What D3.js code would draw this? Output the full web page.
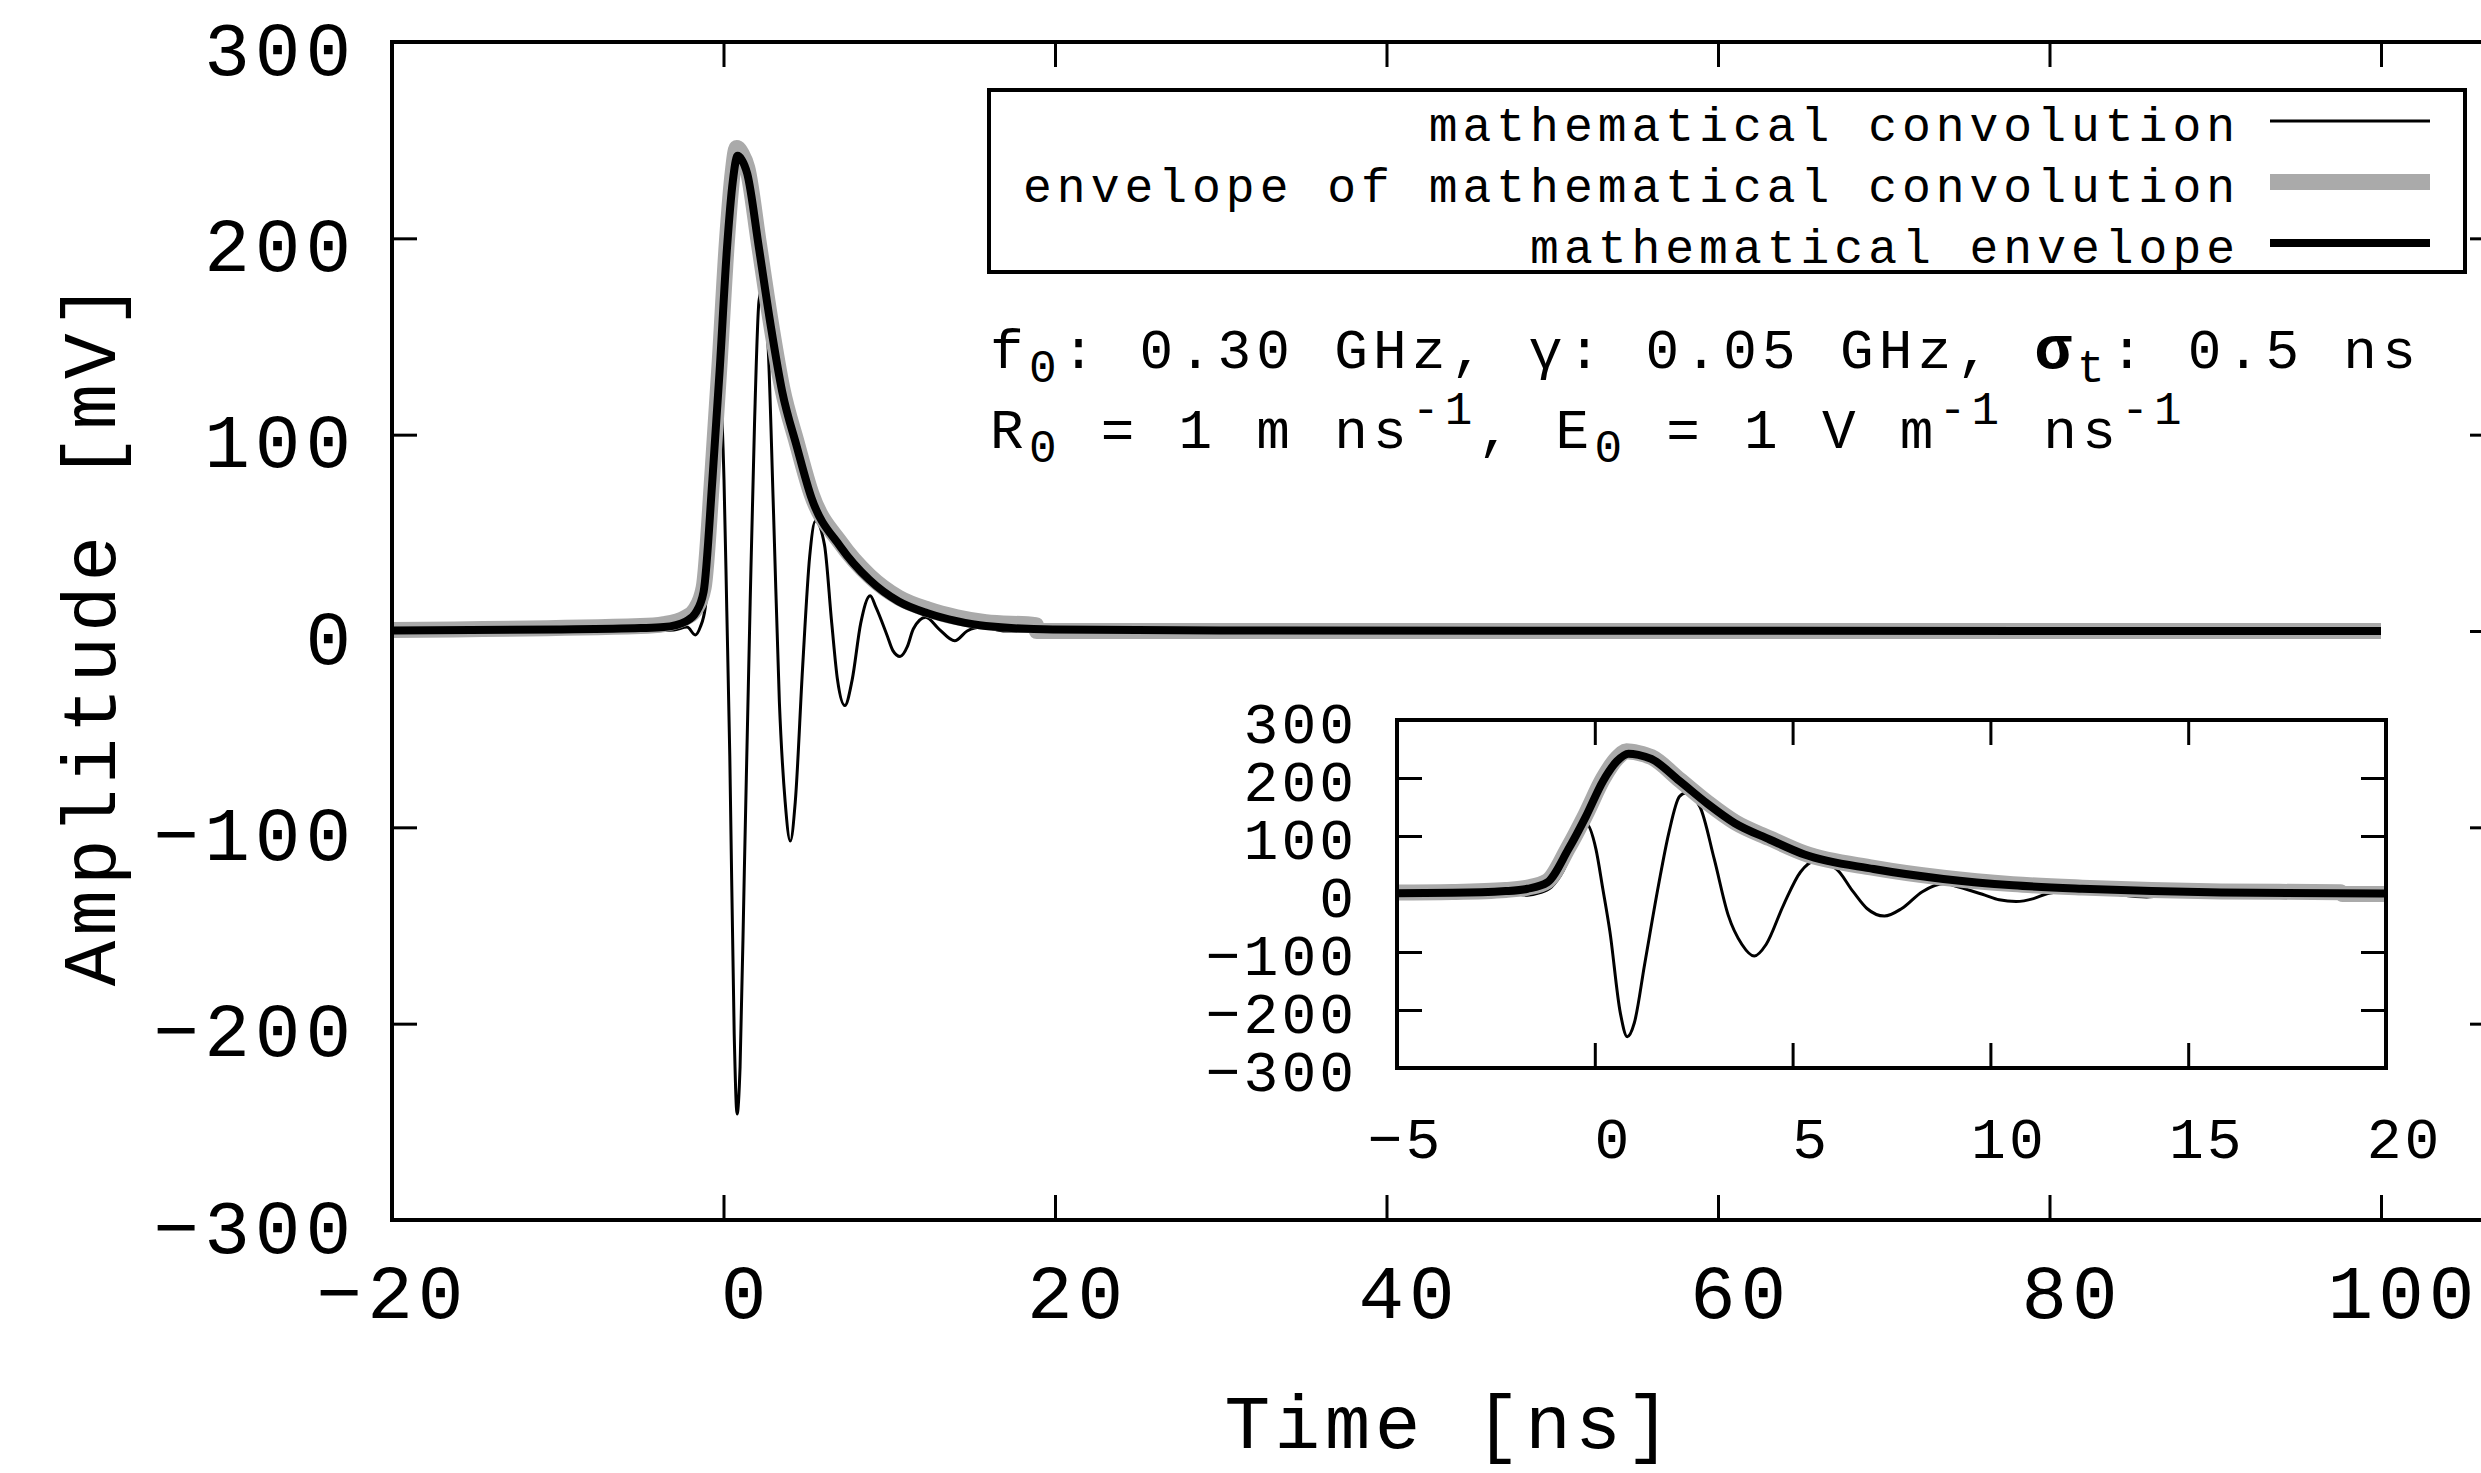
<!DOCTYPE html>
<html>
<head>
<meta charset="utf-8">
<script src="https://cdn.jsdelivr.net/npm/d3@7"></script>
<style>
  body { margin: 0; background: #fff; }
  text { font-family: "Liberation Mono", "DejaVu Sans Mono", monospace; fill: #000; }
</style>
</head>
<body>
<div id="chart-area"></div>
<script>
// values (time in ns, amplitude in mV)
var convTime = [-20, -5, -3, -2.2, -1.7, -1.4, -1.1, -0.8, -0.5, -0.23, 0.03, 0.2, 0.38, 0.645, 0.82, 1.0, 1.26, 1.61, 1.87, 2.14, 2.3, 2.66, 3.02, 3.37, 3.72, 4.03, 4.33, 4.77, 5.2, 5.55, 6.09, 6.53, 6.88, 7.32, 7.76, 8.28, 8.85, 9.2, 9.86, 10.22, 10.65, 11.09, 11.45, 12.2, 13.0, 13.95, 14.7, 15.6, 17, 20, 100];
var convAmp  = [0, 0, 0.5, 2, -2, 2, 12, 40, 88, 122, 77, 10, -64, -205, -246, -222, -121, 15, 105, 168, 174, 150, 60, -36, -87, -107, -87, -19, 38, 56, 44, 4, -25, -38, -25, 4, 18, 12, -2, -10, -13, -8, 1, 7, 1, -5, 0, 2, 0, 0, 0];

var envConvTime = [-20, -5, -3.6, -2.25, -1.7, -1.2, -0.67, -0.23, 0.21, 0.56, 0.8, 1.1, 1.43, 2.14, 2.84, 3.54, 4.42, 5.3, 7.05, 8.81, 10.57, 12.32, 14.08, 15.83, 18.85, 18.9, 100];
var envConvAmp  = [0.5, 2.5, 3.5, 7, 11, 22, 80, 137, 199, 234, 246, 243, 236, 197, 158, 124, 96, 70, 45, 28, 17, 11, 7, 4.5, 3, 0, 0];

var envTime = [-20, -10, -5, -3.6, -2.25, -1.7, -1.2, -0.67, -0.23, 0.21, 0.56, 0.85, 1.1, 1.43, 2.14, 2.84, 3.54, 4.42, 5.3, 7.05, 8.81, 10.57, 12.32, 14.08, 15.83, 19.87, 30, 100];
var envAmp  = [0.3, 0.8, 1.5, 2, 5, 9, 20, 77, 133, 195, 229, 242, 240, 233, 195, 156, 122, 94, 68, 43, 26, 15, 9, 5, 2.5, 0.8, 0.2, 0];

var xTicks = [-20, 0, 20, 40, 60, 80, 100];
var yTicks = [-300, -200, -100, 0, 100, 200, 300];
var insetXTicks = [-5, 0, 5, 10, 15, 20];
var insetYTicks = [-300, -200, -100, 0, 100, 200, 300];

var seriesNames = ["mathematical convolution", "envelope of mathematical convolution", "mathematical envelope"];

var W = 2481, H = 1473;

var svg = d3.select("#chart-area").append("svg")
    .attr("width", W).attr("height", H);

function pts(t, a) { return t.map(function(d, i){ return [d, a[i]]; }); }
var series = [
    {data: pts(convTime, convAmp), color: "#000", width: 3},
    {data: pts(envConvTime, envConvAmp), color: "#aaaaaa", width: 16},
    {data: pts(envTime, envAmp), color: "#000", width: 8}
];

var fmt = d3.format("d");

// ---------- main plot ----------
var x = d3.scaleLinear().domain([-20, 100]).range([392, 2381]);
var y = d3.scaleLinear().domain([-300, 300]).range([1220, 42]);
var frameRight = 2495;

svg.append("clipPath").attr("id", "mainclip").append("rect")
    .attr("x", 392).attr("y", 42).attr("width", frameRight - 392).attr("height", 1178);

var line = d3.line()
    .x(function(d){ return x(d[0]); })
    .y(function(d){ return y(d[1]); })
    .curve(d3.curveMonotoneX);

var gMain = svg.append("g").attr("clip-path", "url(#mainclip)");
series.forEach(function(s){
    gMain.append("path")
        .attr("d", line(s.data))
        .attr("fill", "none")
        .attr("stroke", s.color)
        .attr("stroke-width", s.width)
        .attr("stroke-linejoin", "round");
});

function styleAxis(g, fs, ls) {
    g.attr("font-family", null).attr("font-size", fs);
    g.select(".domain").remove();
    g.selectAll(".tick line").attr("stroke", "#000").attr("stroke-width", 3);
    g.selectAll(".tick text").attr("fill", "#000").attr("letter-spacing", ls).attr("dy", null);
}

// bottom
var gx = svg.append("g").attr("transform", "translate(0,1220)")
    .call(d3.axisBottom(x).tickValues(xTicks).tickSize(-25).tickFormat(fmt));
styleAxis(gx, 76, 5);
gx.selectAll(".tick text").attr("y", 98)
    .attr("x", function(d){ return d < 0 ? 0 : 22; });
// top
var gxt = svg.append("g").attr("transform", "translate(0,42)")
    .call(d3.axisTop(x).tickValues(xTicks).tickSize(-25).tickFormat(""));
styleAxis(gxt, 76, 5);
// left
var gy = svg.append("g").attr("transform", "translate(392,0)")
    .call(d3.axisLeft(y).tickValues(yTicks).tickSize(-25).tickFormat(fmt));
styleAxis(gy, 76, 5);
gy.selectAll(".tick text").attr("x", -36).attr("y", 32);
// right (cut by the picture edge)
var gyr = svg.append("g").attr("transform", "translate(" + frameRight + ",0)")
    .call(d3.axisRight(y).tickValues(yTicks).tickSize(-25).tickFormat(""));
styleAxis(gyr, 76, 5);

svg.append("rect")
    .attr("x", 392).attr("y", 42).attr("width", frameRight - 392).attr("height", 1178)
    .attr("fill", "none").attr("stroke", "#000").attr("stroke-width", 4);

// axis titles
svg.append("text")
    .attr("x", 1450).attr("y", 1448)
    .attr("text-anchor", "middle")
    .attr("font-size", 76).attr("letter-spacing", 4.5)
    .text("Time [ns]");

svg.append("text")
    .attr("transform", "translate(115,632) rotate(-90)")
    .attr("text-anchor", "middle")
    .attr("font-size", 76).attr("letter-spacing", 5)
    .text("Amplitude [mV]");

// ---------- legend ----------
var legend = svg.append("g");
legend.append("rect")
    .attr("x", 989).attr("y", 90).attr("width", 1476).attr("height", 182)
    .attr("fill", "#fff").attr("stroke", "#000").attr("stroke-width", 4);

seriesNames.forEach(function(name, i){
    var row = legend.append("g").attr("transform", "translate(0," + (121 + i * 61) + ")");
    row.append("text")
        .attr("x", 2240).attr("y", 20)
        .attr("text-anchor", "end")
        .attr("font-size", 48).attr("letter-spacing", 5)
        .text(name);
    row.append("line")
        .attr("x1", 2270).attr("x2", 2430)
        .attr("y1", 0).attr("y2", 0)
        .attr("stroke", series[i].color)
        .attr("stroke-width", series[i].width);
});

// ---------- parameter text ----------
var sub = 14, sup = -24;
var ann1 = svg.append("text").attr("x", 990).attr("y", 368)
    .attr("font-size", 56).attr("letter-spacing", 5.3);
ann1.append("tspan").text("f");
ann1.append("tspan").attr("dy", sub).attr("font-size", 46).text("0");
ann1.append("tspan").attr("dy", -sub).text(": 0.30 GHz, \u03b3: 0.05 GHz, ");
ann1.append("tspan").attr("font-weight", "bold").attr("font-size", 62).text("\u03c3");
ann1.append("tspan").attr("dy", sub).attr("font-size", 46).text("t");
ann1.append("tspan").attr("dy", -sub).text(": 0.5 ns");

var ann2 = svg.append("text").attr("x", 990).attr("y", 448)
    .attr("font-size", 56).attr("letter-spacing", 5.3);
ann2.append("tspan").text("R");
ann2.append("tspan").attr("dy", sub).attr("font-size", 46).text("0");
ann2.append("tspan").attr("dy", -sub).text(" = 1 m ns");
ann2.append("tspan").attr("dy", sup).attr("font-size", 46).text("-1");
ann2.append("tspan").attr("dy", -sup).text(", E");
ann2.append("tspan").attr("dy", sub).attr("font-size", 46).text("0");
ann2.append("tspan").attr("dy", -sub).text(" = 1 V m");
ann2.append("tspan").attr("dy", sup).attr("font-size", 46).text("-1");
ann2.append("tspan").attr("dy", -sup).text(" ns");
ann2.append("tspan").attr("dy", sup).attr("font-size", 46).text("-1");

// ---------- inset ----------
var xi = d3.scaleLinear().domain([-5, 20]).range([1397, 2386]);
var yi = d3.scaleLinear().domain([-300, 300]).range([1068, 720]);

svg.append("rect")
    .attr("x", 1397).attr("y", 720).attr("width", 989).attr("height", 348)
    .attr("fill", "#fff");

svg.append("clipPath").attr("id", "insetclip").append("rect")
    .attr("x", 1397).attr("y", 720).attr("width", 989).attr("height", 348);

var lineInset = d3.line()
    .x(function(d){ return xi(d[0]); })
    .y(function(d){ return yi(d[1]); })
    .curve(d3.curveMonotoneX);

var gIn = svg.append("g").attr("clip-path", "url(#insetclip)");
series.forEach(function(s){
    gIn.append("path")
        .attr("d", lineInset(s.data))
        .attr("fill", "none")
        .attr("stroke", s.color)
        .attr("stroke-width", s.width)
        .attr("stroke-linejoin", "round");
});

var gxi = svg.append("g").attr("transform", "translate(0,1068)")
    .call(d3.axisBottom(xi).tickValues(insetXTicks).tickSize(-25).tickFormat(fmt));
styleAxis(gxi, 58, 3);
gxi.selectAll(".tick text").attr("y", 90)
    .attr("x", function(d){ return d < 0 ? 8 : 18; });
var gxit = svg.append("g").attr("transform", "translate(0,720)")
    .call(d3.axisTop(xi).tickValues(insetXTicks).tickSize(-25).tickFormat(""));
styleAxis(gxit, 58, 3);
var gyi = svg.append("g").attr("transform", "translate(1397,0)")
    .call(d3.axisLeft(yi).tickValues(insetYTicks).tickSize(-25).tickFormat(fmt));
styleAxis(gyi, 58, 3);
gyi.selectAll(".tick text").attr("x", -40).attr("y", 22);
var gyir = svg.append("g").attr("transform", "translate(2386,0)")
    .call(d3.axisRight(yi).tickValues(insetYTicks).tickSize(-25).tickFormat(""));
styleAxis(gyir, 58, 3);

svg.append("rect")
    .attr("x", 1397).attr("y", 720).attr("width", 989).attr("height", 348)
    .attr("fill", "none").attr("stroke", "#000").attr("stroke-width", 4);
</script>
</body>
</html>
